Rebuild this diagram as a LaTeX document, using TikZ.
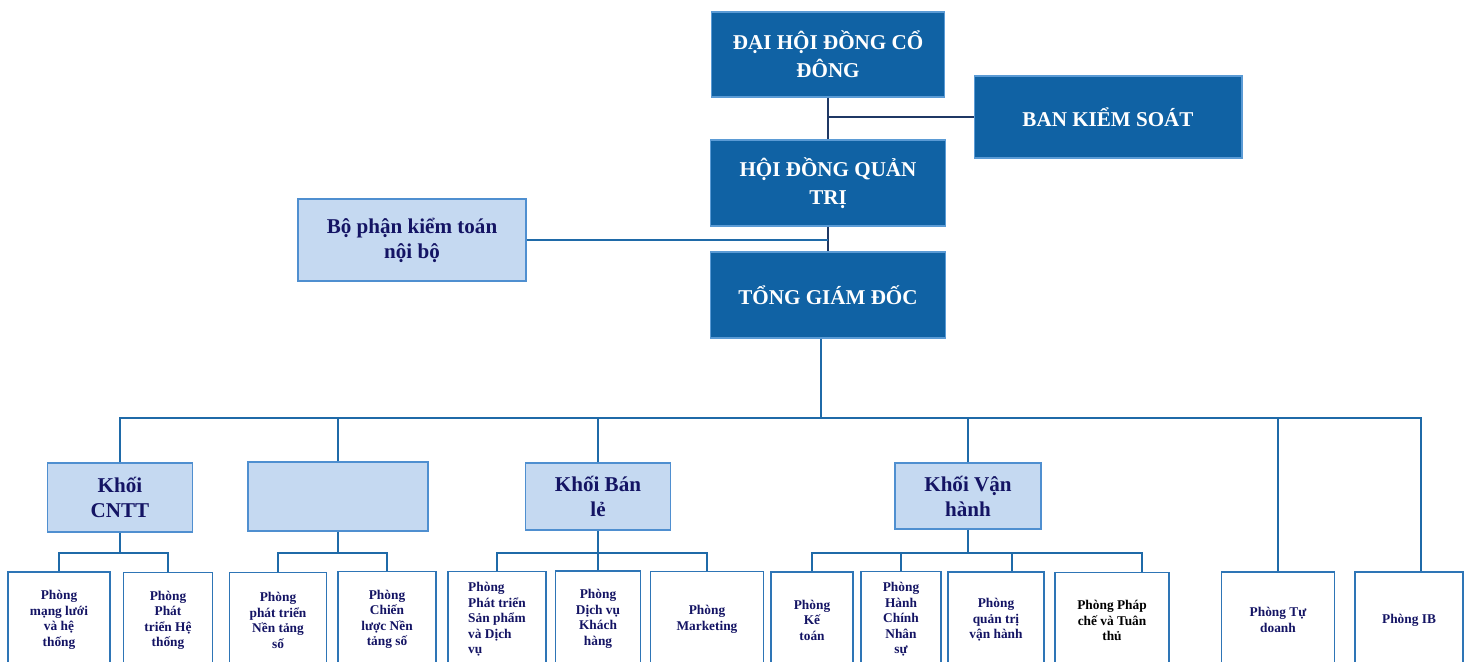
\documentclass[tikz,border=0pt]{standalone}
\usepackage{fontspec}
\setmainfont{Liberation Serif}
\usepackage{tikz}
\usetikzlibrary{shapes,calc}
\definecolor{hqblue}{RGB}{16,98,164}
\definecolor{hqedge}{RGB}{91,155,213}
\definecolor{paleblue}{RGB}{197,217,241}
\definecolor{paleedge}{RGB}{79,143,208}
\definecolor{deptedge}{RGB}{46,117,182}
\definecolor{navytext}{RGB}{20,20,100}
\definecolor{topline}{RGB}{31,56,100}
\definecolor{busline}{RGB}{31,106,168}
\tikzstyle{line} = [draw=topline, line width=0.8pt]
\tikzstyle{bus} = [draw=busline, line width=1.1pt]
\tikzstyle{board} = [draw=hqedge, fill=hqblue, rectangle, text=white, align=center, line width=0.6pt, font=\bfseries\fontsize{12}{16}\selectfont]
\tikzstyle{division} = [draw=paleedge, fill=paleblue, rectangle, text=navytext, align=center, line width=0.8pt, font=\bfseries\fontsize{12}{14.2}\selectfont]
\tikzstyle{dept} = [draw=deptedge, fill=white, rectangle, text=navytext, align=center, line width=0.8pt, minimum height=1.92cm, font=\bfseries\fontsize{7.6}{8.8}\selectfont]

\begin{document}
\begin{tikzpicture}[x=0.02cm, y=-0.02cm]
        \useasboundingbox (0,0) rectangle (1471,662);
        \node[board, minimum width=4.66cm, minimum height=1.70cm] (dhdcd) at (828,54.5) {ĐẠI HỘI ĐỒNG CỔ\\ĐÔNG};
        \node[board, minimum width=5.36cm, minimum height=1.64cm] (bks) at (1108,117) {BAN KIỂM SOÁT};
        \node[board, minimum width=4.70cm, minimum height=1.72cm] (hdqt) at (828,183) {HỘI ĐỒNG QUẢN\\TRỊ};
        \node[board, minimum width=4.70cm, minimum height=1.72cm] (tgd) at (828,295) {TỔNG GIÁM ĐỐC};
        \node[division, minimum width=4.56cm, minimum height=1.64cm] (kiemtoan) at (412,240) {Bộ phận kiểm toán\\nội bộ};
        \node[division, minimum width=2.90cm, minimum height=1.38cm] (cntt) at (120,497.5) {Khối\\CNTT};
        \node[division, minimum width=3.60cm, minimum height=1.38cm] (blank) at (338,496.5) {};
        \node[division, minimum width=2.90cm, minimum height=1.34cm] (banle) at (598,496.5) {Khối Bán\\lẻ};
        \node[division, minimum width=2.92cm, minimum height=1.32cm] (vanhanh) at (968,496) {Khối Vận\\hành};
        \node[dept, minimum width=2.04cm] (p1) at (59,620) {Phòng\\mạng lưới\\và hệ\\thống};
        \node[dept, minimum width=1.78cm] (p2) at (168,620.5) {Phòng\\Phát\\triển Hệ\\thống};
        \node[dept, minimum width=1.94cm] (p3) at (278,620.5) {Phòng\\phát triển\\Nền tảng\\số};
        \node[dept, minimum width=1.96cm] (p4) at (387,619.5) {Phòng\\Chiến\\lược Nền\\tảng số};
        \node[dept, minimum width=1.96cm, align=left] (p5) at (497,619.5) {Phòng\\Phát triển\\Sản phẩm\\và Dịch\\vụ};
        \node[dept, minimum width=1.70cm] (p6) at (598,619) {Phòng\\Dịch vụ\\Khách\\hàng};
        \node[dept, minimum width=2.26cm] (p7) at (707,619.5) {Phòng\\Marketing};
        \node[dept, minimum width=1.64cm] (p8) at (812,620) {Phòng\\Kế\\toán};
        \node[dept, minimum width=1.60cm] (p9) at (901,619.5) {Phòng\\Hành\\Chính\\Nhân\\sự};
        \node[dept, minimum width=1.92cm] (p10) at (996,620) {Phòng\\quản trị\\vận hành};
        \node[dept, minimum width=2.28cm, text=black] (p11) at (1112,620.5) {Phòng Pháp\\chế và Tuân\\thủ};
        \node[dept, minimum width=2.26cm] (tudoanh) at (1278,620) {Phòng Tự\\doanh};
        \node[dept, minimum width=2.16cm] (ib) at (1409,620) {Phòng IB};
        \coordinate (bus) at (0,418);
        \coordinate (sub) at (0,553);
        \coordinate (tgddrop) at ($(tgd.south)+(-7,0)$);
        \coordinate (ibdrop) at ($(ib.north)+(12,0)$);
        \coordinate (p10drop) at ($(p10.north)+(16,0)$);
        \coordinate (p11drop) at ($(p11.north)+(30,0)$);
        \path[line] (dhdcd.south) -- (hdqt.north);
        \path[line] (bks.west) -- (bks.west -| dhdcd.south);
        \path[line] (hdqt.south) -- (tgd.north);
        \path[bus] (kiemtoan.east) -- (kiemtoan.east -| hdqt.south);
        \path[bus] (tgddrop) -- (tgddrop |- bus);
        \path[bus] (cntt.north) |- (ibdrop |- bus) -- (ibdrop);
        \path[bus] (blank.north) -- (blank.north |- bus);
        \path[bus] (banle.north) -- (banle.north |- bus);
        \path[bus] (vanhanh.north) -- (vanhanh.north |- bus);
        \path[bus] (tudoanh.north) -- (tudoanh.north |- bus);
        \path[bus] (cntt.south) -- (cntt.south |- sub);
        \path[bus] (p1.north) |- (p2.north |- sub) -- (p2.north);
        \path[bus] (blank.south) -- (blank.south |- sub);
        \path[bus] (p3.north) |- (p4.north |- sub) -- (p4.north);
        \path[bus] (banle.south) -- (banle.south |- sub);
        \path[bus] (p5.north) |- (p7.north |- sub) -- (p7.north);
        \path[bus] (p6.north) -- (p6.north |- sub);
        \path[bus] (vanhanh.south) -- (vanhanh.south |- sub);
        \path[bus] (p8.north) |- (p11drop |- sub) -- (p11drop);
        \path[bus] (p9.north) -- (p9.north |- sub);
        \path[bus] (p10drop) -- (p10drop |- sub);
    \end{tikzpicture}
\end{document}
